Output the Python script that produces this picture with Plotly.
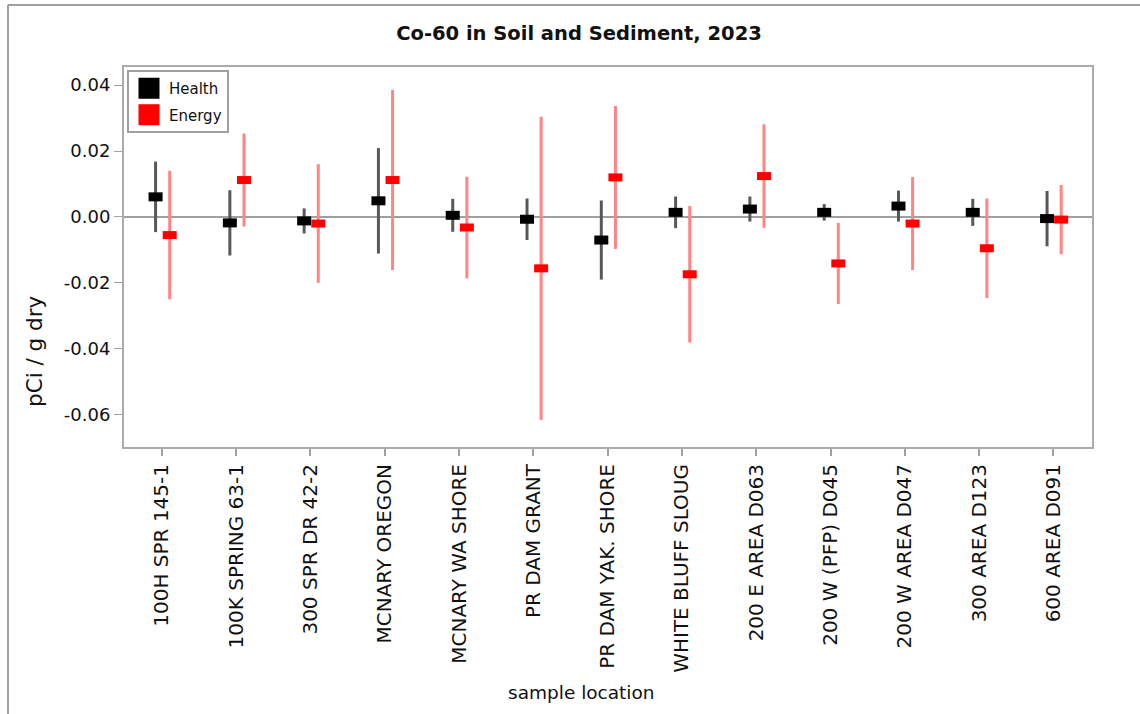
import plotly.graph_objects as go

# ---- data ----
locations = ["100H SPR 145-1", "100K SPRING 63-1", "300 SPR DR 42-2", "MCNARY OREGON",
             "MCNARY WA SHORE", "PR DAM GRANT", "PR DAM YAK. SHORE", "WHITE BLUFF SLOUG",
             "200 E AREA D063", "200 W (PFP) D045", "200 W AREA D047", "300 AREA D123",
             "600 AREA D091"]
health = [0.0061, -0.0018, -0.0012, 0.0049, 0.0005, -0.0007, -0.0070, 0.0014,
          0.0024, 0.0014, 0.0033, 0.0014, -0.0005]
health_err = [0.0107, 0.0099, 0.0038, 0.0160, 0.0050, 0.0063, 0.0120, 0.0048,
              0.0038, 0.0025, 0.0047, 0.0041, 0.0084]
energy = [-0.0055, 0.0112, -0.0020, 0.0112, -0.0032, -0.0156, 0.0120, -0.0174,
          0.0124, -0.0141, -0.0020, -0.0095, -0.0008]
energy_err = [0.0195, 0.0141, 0.0180, 0.0273, 0.0154, 0.0460, 0.0217, 0.0207,
              0.0157, 0.0123, 0.0141, 0.0151, 0.0105]
y_ticks = [-0.06, -0.04, -0.02, 0.0, 0.02, 0.04]
y_tick_labels = ["-0.06", "-0.04", "-0.02", "0.00", "0.02", "0.04"]

FONT = "DejaVu Sans"
W, H = 1140, 714
L, R, T, B = 124, 1092, 67, 447  # plot area in pixels

idx = list(range(len(locations)))
hx = [i - 0.085 for i in idx]
ex = [i + 0.105 for i in idx]

fig = go.Figure()
fig.add_trace(go.Scatter(
    x=hx, y=health, mode="markers", showlegend=False, name="Health",
    marker=dict(symbol="line-ew", size=10, color="black", line=dict(color="black", width=9)),
    error_y=dict(type="data", array=health_err, visible=True, color="#585858", thickness=3, width=0),
))
fig.add_trace(go.Scatter(
    x=ex, y=energy, mode="markers", showlegend=False, name="Energy",
    marker=dict(symbol="line-ew", size=10, color="red", line=dict(color="red", width=8)),
    error_y=dict(type="data", array=energy_err, visible=True, color="#ff8585", thickness=3, width=0),
))
# legend entries
fig.add_trace(go.Scatter(x=[None], y=[None], mode="markers", name="Health", legendgroup="h",
                         marker=dict(symbol="square", size=16, color="black",
                                     line=dict(color="black", width=5))))
fig.add_trace(go.Scatter(x=[None], y=[None], mode="markers", name="Energy", legendgroup="e",
                         marker=dict(symbol="square", size=16, color="red",
                                     line=dict(color="red", width=5))))

def px_x(p):
    return (p - L) / (R - L)

def px_y(p):
    return (B - p) / (B - T)

fig.update_layout(
    width=W, height=H,
    margin=dict(l=L, r=W - R, t=T, b=H - B, pad=0),
    paper_bgcolor="white", plot_bgcolor="white",
    font=dict(family=FONT, color="black"),
    title=dict(text="<b>Co-60 in Soil and Sediment, 2023</b>", x=px_x(579), xref="paper",
               xanchor="center", y=1 - 33 / H, yanchor="middle",
               font=dict(family=FONT, size=19.5, color="#111111")),
    showlegend=True,
    legend=dict(x=px_x(127), y=px_y(70), xanchor="left", yanchor="top",
                bgcolor="white", bordercolor="#a0a0a0", borderwidth=2,
                font=dict(family=FONT, size=15, color="#111111"),
                traceorder="grouped", tracegroupgap=4, itemsizing="trace"),
    xaxis=dict(range=[-0.51, 12.52], tickmode="array", tickvals=idx, ticktext=locations,
               tickangle=-90, ticks="outside", ticklen=7, tickcolor="#a0a0a0", tickwidth=2,
               showgrid=False, zeroline=False, showline=True, mirror=True,
               linecolor="#ababab", linewidth=2,
               tickfont=dict(family=FONT, size=20, color="#111111")),
    yaxis=dict(range=[-0.0698, 0.0455], tickmode="array", tickvals=y_ticks,
               ticktext=y_tick_labels, ticks="outside", ticklen=8, tickcolor="#a0a0a0", tickwidth=1,
               showgrid=False, zeroline=True, zerolinecolor="#a0a0a0", zerolinewidth=1.5,
               showline=True, mirror=True, linecolor="#ababab", linewidth=2,
               tickfont=dict(family=FONT, size=18, color="#111111")),
    annotations=[
        dict(text="pCi / g dry", x=px_x(34), y=px_y(351), xref="paper", yref="paper",
             textangle=-90, showarrow=False, xanchor="center", yanchor="middle",
             font=dict(family=FONT, size=21.5, color="#111111")),
        dict(text="sample location", x=px_x(581), y=px_y(692), xref="paper", yref="paper",
             showarrow=False, xanchor="center", yanchor="middle",
             font=dict(family=FONT, size=18.5, color="#111111")),
    ],
    shapes=[
        dict(type="line", xref="paper", yref="paper", x0=px_x(8), x1=px_x(1142),
             y0=px_y(5), y1=px_y(5), line=dict(color="#a0a0a0", width=2)),
        dict(type="line", xref="paper", yref="paper", x0=px_x(8), x1=px_x(8),
             y0=px_y(5), y1=px_y(716), line=dict(color="#a0a0a0", width=2)),
    ],
)

fig.write_html("out.html", config={"displayModeBar": False},
               post_script="document.body.style.margin='0px';")
